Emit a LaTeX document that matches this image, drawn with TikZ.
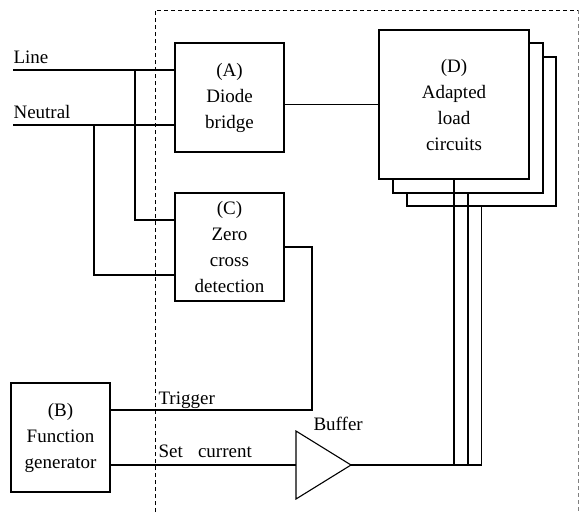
\documentclass[tikz,border=0pt]{standalone}
\usepackage{fontspec}
\setmainfont{Liberation Serif}
\begin{document}
\begin{tikzpicture}[x=1pt,y=-1pt,line width=1.1pt,
  txt/.style={font=\fontsize{19}{26}\selectfont},
  blk/.style={draw,fill=white,align=center,inner sep=0pt,txt},
  lbl/.style={anchor=base west,inner sep=0pt,txt},
  wire/.style={draw,line width=1.1pt}]
\useasboundingbox (0,0) rectangle (579,512);
% dashed enclosure
\draw[dash pattern=on 4pt off 3pt,line width=0.9pt] (155,512) -- (155,10) -- (578,10);
\draw[dash pattern=on 4pt off 3pt,line width=0.9pt,gray] (578,10) -- (578,512);
% blocks
\node[blk,minimum width=109pt,minimum height=109pt] (A) at (229.5,97.5) {(A)\\Diode\\bridge};
\node[blk,minimum width=109pt,minimum height=108pt] (C) at (229.5,247) {(C)\\Zero\\cross\\detection};
\node[blk,minimum width=99pt,minimum height=109pt] (B) at (60.5,437.5) {(B)\\Function\\generator};
\node[draw,fill=white,minimum width=149pt,minimum height=149pt] (D3) at (481.5,131.5) {};
\node[draw,fill=white,minimum width=150pt,minimum height=150pt] (D2) at (468,118) {};
\node[blk,minimum width=150pt,minimum height=149pt] (D1) at (454,104.5) {(D)\\Adapted\\load\\circuits};
% labels
\node[lbl] (tline) at (13,63) {Line};
\node[lbl] (tneu) at (13,118) {Neutral};
\node[lbl] (ttrig) at (158,404) {Trigger};
\node[lbl] (tset) at (158,457) {Set\hspace{0.8em}current};
\node[lbl] (tbuf) at (313,430) {Buffer};
% coordinates
\coordinate (lineL) at (13,70);
\coordinate (jL) at (135,70);
\coordinate (neuL) at (13,125);
\coordinate (jN) at (94,125);
\coordinate (cL) at (135,220);
\coordinate (cN) at (94,275);
\coordinate (trig) at (312,410);
\coordinate (bufin) at (296,465);
\coordinate (bufout) at (351,465);
\coordinate (buft) at (296,431);
\coordinate (bufb) at (296,499);
% wires
\draw (lineL) -- (lineL -| A.west);
\draw (neuL) -- (neuL -| A.west);
\draw (jL) -- (cL) -- (cL -| C.west);
\draw (jN) -- (cN) -- (cN -| C.west);
\draw (A.east |- D1.west) -- (D1.west);
\draw (C.east) -| (trig) -- (trig -| B.east);
\draw (B.east |- bufin) -- (bufin);
\draw (buft) -- (bufout) -- (bufb) -- cycle;
\draw (bufout) -- (bufout -| D3.south);
\draw (D1.south) -- (D1.south |- bufout);
\draw (D2.south) -- (D2.south |- bufout);
\draw (D3.south) -- (D3.south |- bufout);
\end{tikzpicture}
\end{document}
